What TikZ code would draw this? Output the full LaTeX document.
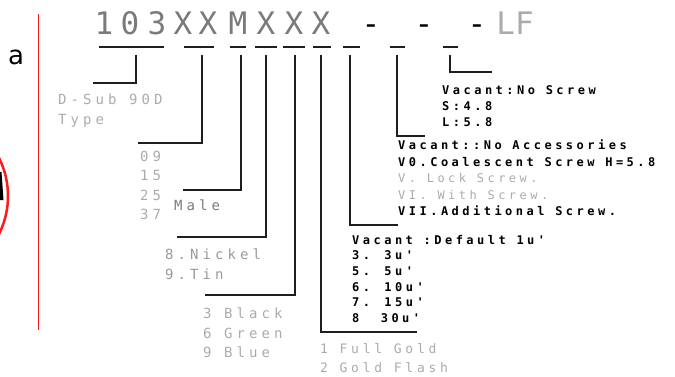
\documentclass[tikz,border=0pt]{standalone}
\usepackage{fontspec}
\usepackage{xcolor}
\usetikzlibrary{positioning}
\newfontfamily\plainfont{DejaVu Sans}
\newfontfamily\bigfont{DejaVu Sans Mono}
\newfontfamily\keyfont[LetterSpace=29]{DejaVu Sans Mono}
\definecolor{strichSchwarz}{HTML}{1E1E1E}
\definecolor{hellGrau}{HTML}{ABABAB}
\definecolor{mittelGrau}{HTML}{7A7A7A}
\definecolor{markRot}{HTML}{FF1A1A}

\begin{document}
\begin{tikzpicture}[x=1pt,y=-1pt,
  bigchar/.style={anchor=base,inner sep=0pt,font=\bigfont\fontsize{31}{31}\selectfont},
  underline/.style={draw=strichSchwarz,line width=1.4pt},
  leader/.style={draw=strichSchwarz,line width=1.4pt},
  greytxt/.style={anchor=north west,inner sep=0pt,align=left,text=hellGrau,
    font=\keyfont\fontsize{14}{19.6}\selectfont},
  spectxt/.style={anchor=north west,inner sep=0pt,align=left,text=black,
    font=\keyfont\bfseries\fontsize{12}{16}\selectfont}]
\useasboundingbox (0,0) rectangle (675,377);
% Markierung links
\draw[markRot,line width=1pt] (38,14)--(38,330);
\draw[markRot,line width=2.5pt] (-77,196) circle (85);
\fill[black] (0,172)--(1.5,172)--(3.5,200)--(0,200)--cycle;
\node[inner sep=0pt,font=\plainfont\fontsize{26}{26}\selectfont] (mark) at (16,57) {a};
% Bestellschluessel
\foreach \c/\x [count=\i] in {1/104,0/130,3/157,X/183,X/208,M/238,X/266,X/294,X/321}
  \node[bigchar,text=mittelGrau] (c\i) at (\x,35) {\c};
\foreach \x [count=\i] in {371,424,477}
  \node[bigchar,text=black] (d\i) at (\x,35) {-};
\node[bigchar,text=hellGrau] (lf) at (515,35) {LF};
\foreach \a/\b in {99/164,184/214,230/246,255/277,283/305,313/331,343/360,390/405,443/458}
  \draw[underline] (\a,47)--(\b,47);
% Fuehrungslinien
\foreach \n/\x/\y/\e in {type/136/83/93,pins/202/143/138,male/241/190/183,
    plate/266/237/177,colour/295/295/205,gold/321/332/417,height/350/225/398,
    access/397/136/425,screw/450/72/492}{
  \coordinate (\n top) at (\x,55);
  \coordinate (\n end) at (\e,\y);
  \draw[leader] (\n top) |- (\n end);
}
% Texte
\node[greytxt] (typeTxt) at (58,94) {D-Sub 90D\\Type};
\node[greytxt] (pinsTxt) at (140,150.5) {09\\15\\25\\37};
\node[greytxt,text=mittelGrau] (maleTxt) at (174,199.5) {Male};
\node[greytxt,text=hellGrau!120] (plateTxt) at (165,248.5) {8.Nickel\\9.Tin};
\node[greytxt] (colourTxt) at (203,307.5) {3 Black\\6 Green\\9 Blue};
\node[greytxt,font=\keyfont\fontsize{13}{19}\selectfont] (goldTxt) at (320,343) {1 Full Gold\\2 Gold Flash};
\node[spectxt,font=\keyfont\bfseries\fontsize{12}{15.6}\selectfont] (heightTxt) at (352,235)
  {Vacant :Default 1u'\\3. 3u'\\5. 5u'\\6. 10u'\\7. 15u'\\8~~30u'};
\node[spectxt,font=\keyfont\bfseries\fontsize{12}{16.5}\selectfont] (accessTxt) at (398,140)
  {Vacant::No Accessories\\V0.Coalescent Screw H=5.8\\
   {\mdseries\color{hellGrau}V. Lock Screw.}\\{\mdseries\color{hellGrau}VI. With Screw.}\\
   VII.Additional Screw.};
\node[spectxt] (screwTxt) at (442,85) {Vacant:No Screw\\S:4.8\\L:5.8};
\end{tikzpicture}
\end{document}
